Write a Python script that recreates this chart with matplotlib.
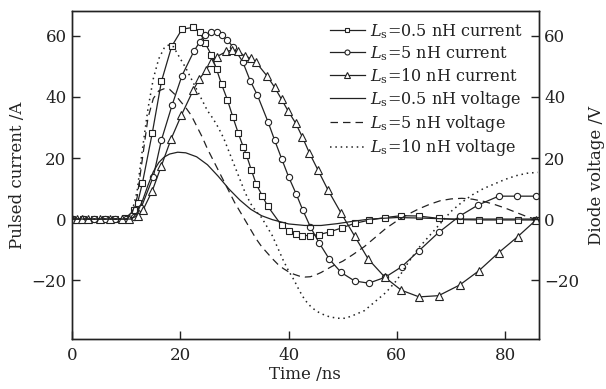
import matplotlib
matplotlib.use("Agg")
import matplotlib.pyplot as plt

plt.rcParams['font.family'] = ['DejaVu Serif']
plt.rcParams['mathtext.fontset'] = 'dejavuserif'

# Ls = 0.5 nH current (squares)
t_i05 = [0, 2, 4, 6, 8, 9.8, 11.5, 12.1, 13.0, 14.8, 16.5, 18.4, 20.3, 22.4, 23.6, 24.6, 25.7, 26.7, 27.6,
         28.7, 29.7, 30.7, 31.6, 32.2, 33.1, 34.0, 35.1, 36.1, 38.7, 40.1, 41.3, 42.5, 43.9, 45.6, 47.6, 49.8,
         52.2, 54.8, 57.8, 60.8, 64.0, 67.8, 71.6, 75.2, 78.8, 82.3, 85.7]
i05 = [0, 0, 0, 0, 0, 0.2, 3.0, 5.3, 11.9, 28.1, 45.1, 56.6, 62.2, 62.8, 61.2, 57.6, 53.8, 49.0, 44.2,
       39.0, 33.4, 28.1, 23.7, 21.0, 16.1, 11.5, 7.7, 4.3, -2.1, -3.8, -5.0, -5.4, -5.4, -5.1, -4.2, -2.9,
       -1.4, -0.4, 0.5, 1.1, 1.0, 0.2, -0.2, -0.3, -0.3, -0.3, -0.3]

# Ls = 5 nH current (circles)
t_i5 = [0, 2, 4, 6, 8, 10, 11.5, 12.7, 15.0, 16.5, 18.5, 20.3, 22.5, 23.6, 24.5, 25.6, 26.7, 27.6, 28.6,
        29.7, 31.5, 32.9, 34.2, 36.2, 37.4, 38.7, 40.0, 41.4, 42.6, 44.0, 45.6, 47.5, 49.7, 52.2, 54.8,
        57.8, 60.9, 64.0, 67.7, 71.6, 75.0, 78.8, 82.2, 85.7]
i5 = [0, 0, 0, 0, 0, 0, 0.8, 3.5, 13.9, 25.9, 37.5, 47.0, 55.0, 58.1, 60.3, 61.2, 61.2, 60.3, 58.7,
      56.5, 51.6, 45.3, 40.7, 31.8, 25.9, 19.8, 13.8, 8.2, 3.0, -2.5, -7.7, -13.1, -17.5, -20.3, -21.0,
      -19.1, -15.6, -10.5, -4.4, 1.0, 4.6, 7.5, 7.5, 7.5]

# Ls = 10 nH current (triangles)
t_i10 = [0, 0.9, 1.8, 3.0, 5.2, 7.0, 9.2, 10.5, 12.1, 13.1, 14.8, 16.5, 18.3, 20.2, 22.4, 23.5, 24.8,
         25.7, 26.7, 28.5, 29.6, 30.7, 31.9, 33.0, 34.0, 36.0, 37.4, 38.7, 39.9, 41.3, 42.5, 43.8, 45.4,
         47.3, 49.7, 52.2, 54.7, 57.8, 60.8, 64.1, 67.7, 71.6, 75.1, 78.8, 82.3, 85.7]
i10 = [0, 0, 0, 0, 0, 0, 0, 0, 1.0, 3.0, 9.2, 17.5, 26.3, 34.1, 42.3, 45.9, 48.9,
       51.6, 53.2, 54.9, 55.4, 54.9, 53.4, 52.7, 51.3, 46.9, 43.2, 39.2, 35.4, 31.4, 27.0, 21.8, 16.1,
       9.4, 1.9, -5.6, -13.1, -19.1, -23.3, -25.5, -25.1, -21.6, -17.0, -11.0, -5.8, -0.3]

# voltages
t_v05 = [0, 11, 12, 13, 14, 15, 16, 17, 18, 19.5, 21, 23, 25, 27, 29, 31, 33, 35, 37, 40, 43, 46, 49,
         52, 55, 60, 65, 70, 86]
v05 = [0, 0, 2, 6, 11, 15.5, 18.5, 20.3, 21.3, 21.9, 21.7, 20.4, 17.8, 14.0, 9.8, 6.2, 3.2, 1.1, -0.2,
       -1.6, -2.1, -2.1, -1.5, -0.7, 0, 0.5, 0.3, 0, 0]

t_v5 = [0, 10, 11, 12, 13, 14, 15, 16, 17, 18, 19, 20, 21, 22, 23, 24, 25, 26, 27, 28, 29, 30, 31, 32,
        33, 34, 35, 36, 37, 38, 39, 40, 41, 42, 43, 44, 45, 46, 48, 50, 52, 54, 56, 58, 60, 62, 64, 66,
        68, 70, 72, 74, 76, 78, 80, 82, 84, 86]
v5 = [0, 0, 1.5, 7, 20, 33, 39.5, 42, 42.7, 42.5, 40.8, 38.6, 36.5, 34, 30.5, 27, 23, 19.5, 16, 12.5,
      9, 5.5, 2.5, -0.5, -3.5, -6.5, -9, -11, -13, -14.8, -16.2, -17.3, -18.1, -18.7, -19, -18.9, -18.3,
      -17.5, -15.5, -13.8, -11.5, -9, -6, -3, -0.6, 1.5, 3.3, 4.8, 6, 6.6, 6.8, 6.5, 5.8, 4.8, 3.6, 2.2,
      0.8, -0.2]

t_v10 = [0, 10, 11, 12, 13, 14, 15, 16, 17, 17.8, 18.7, 20, 21, 22, 23, 24, 25, 26, 27, 28, 29, 30, 31,
         32, 33, 34, 35, 36, 37, 38, 39, 40, 41, 42, 43, 44, 45, 46, 47.5, 49, 50.5, 52, 54, 56, 58, 60,
         62, 64, 66, 68, 70, 72, 74, 76, 78, 80, 82, 84, 86]
v10 = [0, 0, 2, 9, 23, 36, 46, 52.5, 56, 57, 56.5, 52.5, 49.5, 46, 42.5, 39, 35.5, 33, 30, 26.5, 22,
       17.5, 13, 8.5, 5, 2.5, 0.5, -2.5, -5.5, -9.5, -13.5, -17, -20, -23.5, -26.5, -28.5, -30, -31, -32,
       -32.5, -32.5, -31.5, -30, -27, -24, -20, -14.5, -9.5, -5.5, -1.5, 2.5, 5.5, 8, 10, 11.5, 13, 14.2,
       15, 15.3]

yticks = [-20, 0, 20, 40, 60]
xticks = [0, 20, 40, 60, 80]

col = '#222222'
fig = plt.figure(figsize=(6.06, 3.89), dpi=100)
ax = fig.add_axes([0.119, 0.1285, 0.77, 0.8435])
ax2 = ax.twinx()

lw = 0.9
h1, = ax.plot(t_i05, i05, '-', color=col, lw=lw, marker='s', ms=4, mfc='white', mew=0.8,
              label=r'$L_\mathrm{s}$=0.5 nH current')
h2, = ax.plot(t_i5, i5, '-', color=col, lw=lw, marker='o', ms=4.5, mfc='white', mew=0.8,
              label=r'$L_\mathrm{s}$=5 nH current')
h3, = ax.plot(t_i10, i10, '-', color=col, lw=lw, marker='^', ms=5.5, mfc='white', mew=0.8,
              label=r'$L_\mathrm{s}$=10 nH current')
h4, = ax2.plot(t_v05, v05, '-', color=col, lw=lw, label=r'$L_\mathrm{s}$=0.5 nH voltage')
h5, = ax2.plot(t_v5, v5, color=col, lw=lw, ls=(0, (6, 4)), label=r'$L_\mathrm{s}$=5 nH voltage')
h6, = ax2.plot(t_v10, v10, color=col, lw=1.1, ls=(0, (1, 2.5)), label=r'$L_\mathrm{s}$=10 nH voltage')

for a in (ax, ax2):
    a.set_xlim(0, 86.2)
    a.set_ylim(-39.3, 68.2)
    a.set_yticks(yticks)
    a.set_yticklabels(['\u221220', '0', '20', '40', '60'])
    a.tick_params(direction='in', length=6, width=1, labelsize=12, colors=col)
ax.set_xticks(xticks)
ax.tick_params(axis='x', pad=6)
ax.tick_params(axis='y', pad=4)
ax2.tick_params(axis='y', pad=4)
for a in (ax, ax2):
    for s in a.spines.values():
        s.set_color(col)
        s.set_linewidth(1.0)

ax.set_xlabel('Time /ns', fontsize=12, color=col, labelpad=1)
ax.set_ylabel('Pulsed current /A', fontsize=12, color=col, labelpad=4)
ax2.set_ylabel('Diode voltage /V', fontsize=12, color=col, labelpad=6)

leg = ax2.legend(handles=[h1, h2, h3, h4, h5, h6], loc='upper right', frameon=False, fontsize=11.5,
                 handlelength=2.2, handletextpad=0.3, labelspacing=0.2, borderaxespad=0.3,
                 bbox_to_anchor=(0.99, 1.0), markerscale=0.8)
for txt in leg.get_texts():
    txt.set_color(col)

fig.savefig('out.png', dpi=100)
